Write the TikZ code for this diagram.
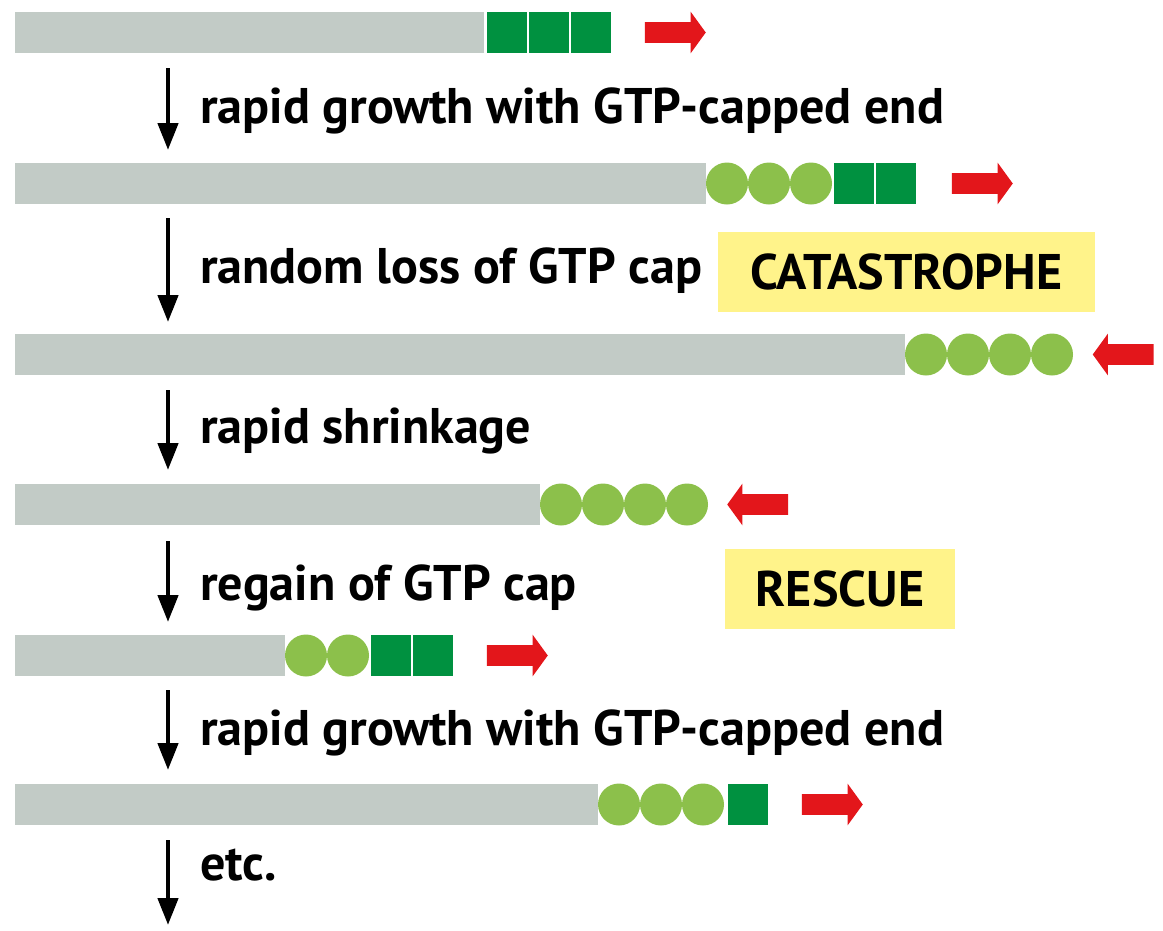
\documentclass[tikz,border=0pt]{standalone}
\usepackage{fontspec}
\setsansfont{PT Sans}
\usetikzlibrary{shapes.arrows,arrows.meta,positioning}

\definecolor{tubegray}{HTML}{C2CBC6}
\definecolor{gtpgreen}{HTML}{009140}
\definecolor{gdpgreen}{HTML}{8CC04B}
\definecolor{arrowred}{HTML}{E3161B}
\definecolor{boxyellow}{HTML}{FFF38A}

\begin{document}
\begin{tikzpicture}[x=0.02cm,y=-0.02cm,
	tube/.style={fill=tubegray},
	gdp/.style={fill=gdpgreen},
	gtp/.style={fill=gtpgreen},
	growarrow/.style={single arrow,fill=arrowred,draw=none,inner sep=0pt,
		inner ysep=0.2cm,minimum height=1.22cm,single arrow head extend=0.21cm,
		single arrow tip angle=108,single arrow head indent=0pt},
	step label/.style={anchor=base west,font=\sffamily\bfseries\fontsize{28.5}{34}\selectfont},
	event/.style={fill=boxyellow,inner sep=0pt,font=\sffamily\bfseries\fontsize{28.5}{34}\selectfont},
	down/.style={line width=0.09cm,-{Triangle[length=0.54cm,width=0.4cm]}}]

	\useasboundingbox (0,0) rectangle (1163,930);

	% row 1
	\fill[tube] (15,12) rectangle (484,53);
	\foreach \i in {0,1,2}
		\fill[gtp] (487+42*\i,12) rectangle ++(40,41);
	\node[growarrow] (g1) at (671.5,32.5) {};

	% row 2
	\fill[tube] (15,163) rectangle (706,204);
	\foreach \i in {0,1,2}
		\fill[gdp] (727+42*\i,183.5) circle (21);
	\foreach \i in {0,1}
		\fill[gtp] (834+42*\i,163) rectangle ++(40,41);
	\node[growarrow] (g2) at (978.5,183.5) {};

	% row 3
	\fill[tube] (15,334) rectangle (905,375);
	\foreach \i in {0,...,3}
		\fill[gdp] (926+42*\i,354.5) circle (21);
	\node[growarrow,shape border rotate=180] (s3) at (1127,354.5) {};

	% row 4
	\fill[tube] (15,484) rectangle (540,525);
	\foreach \i in {0,...,3}
		\fill[gdp] (561+42*\i,504.5) circle (21);
	\node[growarrow,shape border rotate=180] (s4) at (761.5,504.5) {};

	% row 5
	\fill[tube] (15,635) rectangle (285,676);
	\foreach \i in {0,1}
		\fill[gdp] (306+42*\i,655.5) circle (21);
	\foreach \i in {0,1}
		\fill[gtp] (371+42*\i,635) rectangle ++(40,41);
	\node[growarrow] (g5) at (513.5,655.5) {};

	% row 6
	\fill[tube] (15,784) rectangle (598,825);
	\foreach \i in {0,1,2}
		\fill[gdp] (619+42*\i,804.5) circle (21);
	\fill[gtp] (728,784) rectangle ++(40,41);
	\node[growarrow] (g6) at (828.5,804.5) {};

	% steps
	\coordinate (a1) at (168,68);  \coordinate (b1) at (168,150);
	\coordinate (a2) at (168,218); \coordinate (b2) at (168,322);
	\coordinate (a3) at (168,390); \coordinate (b3) at (168,470);
	\coordinate (a4) at (168,541); \coordinate (b4) at (168,622);
	\coordinate (a5) at (168,690); \coordinate (b5) at (168,770);
	\coordinate (a6) at (168,840); \coordinate (b6) at (168,925);
	\foreach \k in {1,...,6}
		\draw[down] (a\k) -- (b\k);

	\node[step label] (t1) at (194,123) {rapid growth with GTP-capped end};
	\node[step label] (t2) at (194,283) {random loss of GTP cap};
	\node[step label] (t3) at (194,443) {rapid shrinkage};
	\node[step label] (t4) at (194,600) {regain of GTP cap};
	\node[step label] (t5) at (194,745) {rapid growth with GTP-capped end};
	\node[step label] (t6) at (194,880) {etc.};

	\node[event,minimum width=7.54cm,minimum height=1.6cm] (cat) at (906.5,272) {CATASTROPHE};
	\node[event,minimum width=4.6cm,minimum height=1.6cm] (res) at (840,589) {RESCUE};

\end{tikzpicture}
\end{document}
